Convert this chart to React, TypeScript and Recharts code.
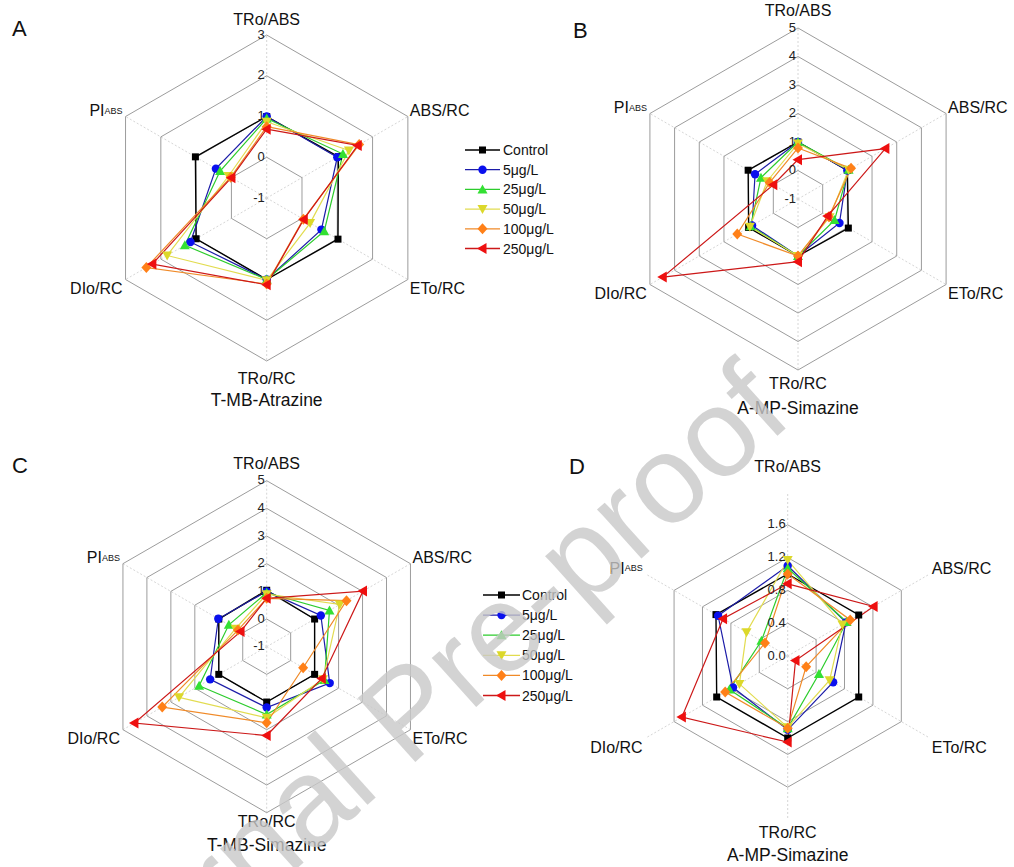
import React from "react";
import {
  RadarChart,
  Radar,
  PolarGrid,
  PolarAngleAxis,
  PolarRadiusAxis,
} from "recharts";

const AXES = ["TRo/ABS", "ABS/RC", "ETo/RC", "TRo/RC", "DIo/RC", "PIABS"];
const SERIES = ["Control", "5μg/L", "25μg/L", "50μg/L", "100μg/L", "250μg/L"];
const LINE_COLORS = ["#000000", "#1c1ca8", "#2ccc2c", "#e2dc50", "#f08a28", "#cc1818"];
const MARK_COLORS = ["#000000", "#0a10ee", "#33e033", "#dcd82a", "#ff8018", "#ee1010"];
const SHAPES = ["square", "circle", "up", "down", "diamond", "left"];

// A: T-MB-Atrazine
const A_CONTROL = [1.0, 1.03, 1.02, 1.0, 1.0, 1.02];
const A_5 = [1.0, 1.0, 0.55, 1.0, 1.16, 0.44];
const A_25 = [0.95, 1.16, 0.63, 1.0, 1.32, 0.32];
const A_50 = [0.87, 1.33, 0.23, 1.02, 1.82, 0.08];
const A_100 = [0.75, 1.62, 0.04, 1.11, 2.41, 0.02];
const A_250 = [0.69, 1.58, 0.05, 1.13, 2.24, 0.0];

// B: A-MP-Simazine
const B_CONTROL = [1.0, 1.0, 1.04, 1.0, 1.0, 1.02];
const B_5 = [1.0, 1.0, 0.68, 1.0, 0.86, 0.74];
const B_25 = [1.0, 1.05, 0.48, 1.0, 0.92, 0.5];
const B_50 = [0.95, 1.05, 0.28, 1.0, 0.95, 0.25];
const B_100 = [0.79, 1.15, 0.25, 1.0, 1.46, 0.15];
const B_250 = [0.38, 2.54, 0.2, 1.2, 4.48, 0.0];

// C: T-MB-Simazine
const C_CONTROL = [1.04, 1.0, 1.0, 1.0, 1.0, 1.0];
const C_5 = [1.0, 1.26, 1.63, 1.2, 1.36, 1.02];
const C_25 = [0.95, 1.62, 1.41, 1.45, 1.82, 0.58];
const C_50 = [0.9, 2.05, 1.35, 1.57, 2.66, 0.3];
const C_100 = [0.75, 2.33, 0.52, 1.75, 3.36, 0.2];
const C_250 = [0.75, 3.02, 1.3, 2.21, 4.52, 0.09];

// D: A-MP-Simazine
const D_CONTROL = [1.0, 1.0, 1.0, 1.0, 1.0, 1.01];
const D_5 = [1.1, 0.82, 0.64, 0.9, 0.77, 0.98];
const D_25 = [1.07, 0.83, 0.44, 0.88, 0.82, 0.37];
const D_50 = [1.17, 0.77, 0.59, 0.87, 0.68, 0.58];
const D_100 = [1.0, 0.88, 0.26, 0.88, 0.88, 0.32];
const D_250 = [0.88, 1.21, 0.11, 1.05, 1.49, 0.91];

const TICKS_AC = [-1, 0, 1, 2, 3];
const TICKS_B = [-1, 0, 1, 2, 3, 4, 5];
const TICKS_D = [0, 0.4, 0.8, 1.2, 1.6];

const FONT = "'Liberation Sans', Arial, Helvetica, sans-serif";

const toRows = (series: number[][]) =>
  AXES.map((axis, j) => {
    const row: any = { axis };
    series.forEach((s, i) => (row["s" + i] = s[j]));
    return row;
  });

const panels = [
  {
    letter: "A", title: "T-MB-Atrazine", left: 0, top: 0, cx: 266.7, cy: 198, R: 163,
    domain: [-1, 3], ticks: TICKS_AC, fmt: (v: number) => String(v), topGap: 16, bottomGap: 17,
    data: toRows([A_CONTROL, A_5, A_25, A_50, A_100, A_250]),
    letterPos: [12, 40], titleY: 400,
  },
  {
    letter: "B", title: "A-MP-Simazine", left: 507, top: 0, cx: 291, cy: 199, R: 171,
    domain: [-1, 5], ticks: TICKS_B, fmt: (v: number) => String(v), topGap: 18, bottomGap: 13,
    data: toRows([B_CONTROL, B_5, B_25, B_50, B_100, B_250]),
    letterPos: [66, 42], titleY: 408,
  },
  {
    letter: "C", title: "T-MB-Simazine", left: 0, top: 433, cx: 266.7, cy: 213.7, R: 166,
    domain: [-1, 5], ticks: TICKS_B, fmt: (v: number) => String(v), topGap: 17, bottomGap: 9,
    data: toRows([C_CONTROL, C_5, C_25, C_50, C_100, C_250]),
    letterPos: [12, 44], titleY: 412,
  },
  {
    letter: "D", title: "A-MP-Simazine", left: 507, top: 433, cx: 280.7, cy: 223, R: 164,
    domain: [0, 1.6], ticks: TICKS_D, fmt: (v: number) => v.toFixed(1), topGap: 26, bottomGap: 12,
    data: toRows([D_CONTROL, D_5, D_25, D_50, D_100, D_250]),
    letterPos: [62, 45], titleY: 422,
  },
];

function Marker({ x, y, shape, color }: any) {
  if (shape === "square") return <rect x={x - 3.5} y={y - 3.5} width={7} height={7} fill={color} />;
  if (shape === "circle") return <circle cx={x} cy={y} r={4.2} fill={color} />;
  let pts = "";
  if (shape === "up") pts = `${x},${y - 5} ${x + 5},${y + 4} ${x - 5},${y + 4}`;
  if (shape === "down") pts = `${x},${y + 5} ${x + 5},${y - 4} ${x - 5},${y - 4}`;
  if (shape === "diamond") pts = `${x},${y - 5.5} ${x + 5},${y} ${x},${y + 5.5} ${x - 5},${y}`;
  if (shape === "left") pts = `${x - 5.5},${y} ${x + 4},${y - 5.5} ${x + 4},${y + 5.5}`;
  return <polygon points={pts} fill={color} />;
}

function AxisLabel({ value, x, y, anchor }: any) {
  const common = { x, y, textAnchor: anchor, dominantBaseline: "central", fontSize: 16, fontFamily: FONT, fill: "#111" };
  if (value === "PIABS")
    return (
      <text {...common}>
        PI<tspan fontSize={9}>ABS</tspan>
      </text>
    );
  return <text {...common}>{value}</text>;
}

function Panel({ p }: any) {
  const angleTick = (t: any) => {
    const a = (t.payload.coordinate * Math.PI) / 180;
    const vx = p.cx + p.R * Math.cos(a);
    const vy = p.cy - p.R * Math.sin(a);
    const c = Math.cos(a);
    const s = Math.sin(a);
    let x = vx, y = vy, anchor = "middle";
    if (Math.abs(c) < 0.1) {
      y = s > 0 ? vy - p.topGap : vy + p.bottomGap;
    } else {
      anchor = c > 0 ? "start" : "end";
      x = c > 0 ? vx + 2 : vx - 3;
      y = s > 0 ? vy - 6 : vy + 9;
    }
    return <AxisLabel value={t.payload.value} x={x} y={y} anchor={anchor} />;
  };
  const radiusTick = (t: any) => (
    <text x={t.x - 2} y={t.y - 1} textAnchor="end" dominantBaseline="central" fontSize={13} fontFamily={FONT} fill="#222">
      {p.fmt(t.payload.value)}
    </text>
  );
  return (
    <div style={{ position: "absolute", left: p.left, top: p.top, width: 507, height: 434 }}>
      <RadarChart
        width={507}
        height={434}
        data={p.data}
        cx={p.cx}
        cy={p.cy}
        outerRadius={p.R}
        innerRadius={0}
        startAngle={90}
        endAngle={-270}
        margin={{ top: 0, right: 0, bottom: 0, left: 0 }}
      >
        <PolarGrid gridType="polygon" polarRadius={[]} stroke="#d6d6d6" strokeDasharray="2 2" />
        <PolarGrid gridType="polygon" radialLines={false} stroke="#9c9c9c" strokeWidth={1} />
        <PolarAngleAxis dataKey="axis" tick={angleTick} tickLine={false} axisLine={false} />
        <PolarRadiusAxis
          angle={90}
          type="number"
          domain={p.domain}
          ticks={p.ticks}
          tickCount={p.ticks.length}
          axisLine={false}
          tick={radiusTick}
        />
        {SERIES.map((name, i) => (
          <Radar
            key={name}
            name={name}
            dataKey={"s" + i}
            stroke={LINE_COLORS[i]}
            strokeWidth={i === 0 ? 1.4 : 1.2}
            fill="none"
            fillOpacity={0}
            isAnimationActive={false}
            activeDot={false}
            dot={(d: any) => (
              <Marker key={`m${i}-${d.index}`} x={d.cx} y={d.cy} shape={SHAPES[i]} color={MARK_COLORS[i]} />
            )}
          />
        ))}
      </RadarChart>
      <div
        style={{
          position: "absolute", left: p.letterPos[0], top: p.letterPos[1] - 24,
          fontSize: 22, fontFamily: FONT, color: "#111", lineHeight: "26px",
        }}
      >
        {p.letter}
      </div>
      <div
        style={{
          position: "absolute", left: p.cx - 100, width: 200, top: p.titleY - 11, textAlign: "center",
          fontSize: 17.5, fontFamily: FONT, color: "#111", lineHeight: "22px",
        }}
      >
        {p.title}
      </div>
    </div>
  );
}

function SeriesLegend({ left, top, step, lineX1, lineX2, textX }: any) {
  return (
    <svg style={{ position: "absolute", left, top }} width={120} height={6 * step + 10}>
      {SERIES.map((name, i) => {
        const y = 8 + i * step;
        return (
          <g key={name}>
            <line x1={lineX1} x2={lineX2} y1={y} y2={y} stroke={LINE_COLORS[i]} strokeWidth={1.3} />
            <Marker x={(lineX1 + lineX2) / 2} y={y} shape={SHAPES[i]} color={MARK_COLORS[i]} />
            <text x={textX} y={y} dominantBaseline="central" fontSize={14} fontFamily={FONT} fill="#111">
              {name}
            </text>
          </g>
        );
      })}
    </svg>
  );
}

export default function App() {
  return (
    <div style={{ position: "absolute", left: 0, top: 0, width: 1014, height: 867, background: "#fff", overflow: "hidden" }}>
      {panels.map((p) => (
        <Panel key={p.letter} p={p} />
      ))}
      <SeriesLegend left={460} top={142} step={19.7} lineX1={5} lineX2={40} textX={43} />
      <SeriesLegend left={478} top={587} step={20.1} lineX1={5} lineX2={42} textX={44} />
      <svg style={{ position: "absolute", left: 0, top: 0, pointerEvents: "none" }} width={1014} height={867}>
        <text
          transform="translate(795,420) rotate(-42)"
          textAnchor="end"
          fontSize={125}
          fontFamily={FONT}
          fill="#c8c8c8"
          fillOpacity={0.8}
        >
          Journal Pre-proof
        </text>
      </svg>
    </div>
  );
}
